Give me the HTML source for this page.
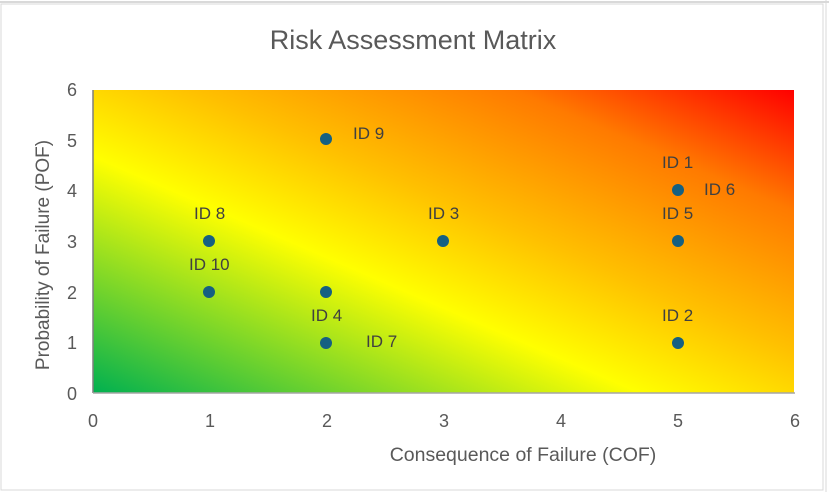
<!DOCTYPE html>
<html><head><meta charset="utf-8"><style>
html,body{margin:0;padding:0;background:#fff;width:829px;height:492px;overflow:hidden}
svg{display:block;font-family:"Liberation Sans",sans-serif}
</style></head><body>
<svg width="829" height="492" viewBox="0 0 829 492" xmlns="http://www.w3.org/2000/svg">
<defs>
<linearGradient id="g" x1="0" y1="1" x2="1" y2="0">
<stop offset="0" stop-color="#00b050"/>
<stop offset="0.39" stop-color="#ffff00"/>
<stop offset="0.57" stop-color="#ffc000"/>
<stop offset="0.8" stop-color="#ff7a00"/>
<stop offset="1" stop-color="#ff0000"/>
</linearGradient>
</defs>
<rect x="0" y="0" width="829" height="492" fill="#fff"/>
<line x1="0" y1="2" x2="829" y2="2" stroke="#d9d9d9" stroke-width="2"/>
<line x1="826" y1="0" x2="826" y2="492" stroke="#d9d9d9"/>
<rect x="1" y="4" width="822" height="486" fill="#fff" stroke="#d9d9d9"/>
<rect x="93" y="90" width="701" height="303" fill="url(#g)"/>
<line x1="93" y1="90" x2="93" y2="393" stroke="#7f7f7f" stroke-width="1.5"/>
<line x1="93" y1="393" x2="795" y2="393" stroke="#a6a6a6" stroke-width="1.5"/>
<text x="413" y="49" font-size="27" fill="#595959" text-anchor="middle">Risk Assessment Matrix</text>
<g font-size="18" fill="#595959" text-anchor="end">
<text x="77" y="400">0</text><text x="77" y="349">1</text><text x="77" y="299">2</text><text x="77" y="248">3</text><text x="77" y="197">4</text><text x="77" y="147">5</text><text x="77" y="96">6</text>
</g>
<g font-size="18" fill="#595959" text-anchor="middle">
<text x="93" y="427">0</text><text x="210" y="427">1</text><text x="327" y="427">2</text><text x="444" y="427">3</text><text x="561" y="427">4</text><text x="678" y="427">5</text><text x="795" y="427">6</text>
</g>
<text x="523" y="461" font-size="19.5" fill="#595959" text-anchor="middle">Consequence of Failure (COF)</text>
<text transform="translate(49,255) rotate(-90)" font-size="19" fill="#595959" text-anchor="middle">Probability of Failure (POF)</text>
<g fill="#156082">
<circle cx="326" cy="139" r="6"/><circle cx="678" cy="190" r="6"/><circle cx="209" cy="241" r="6"/>
<circle cx="443" cy="241" r="6"/><circle cx="678" cy="241" r="6"/><circle cx="209" cy="292" r="6"/>
<circle cx="326" cy="292" r="6"/><circle cx="326" cy="343" r="6"/><circle cx="678" cy="343" r="6"/>
</g>
<g font-size="17" fill="#404040">
<text x="353" y="139">ID 9</text>
<text x="662" y="168">ID 1</text>
<text x="704" y="195">ID 6</text>
<text x="194" y="219">ID 8</text>
<text x="428" y="219">ID 3</text>
<text x="662" y="219">ID 5</text>
<text x="189" y="270">ID 10</text>
<text x="311" y="321">ID 4</text>
<text x="366" y="347">ID 7</text>
<text x="662" y="321">ID 2</text>
</g>
</svg>
</body></html>
